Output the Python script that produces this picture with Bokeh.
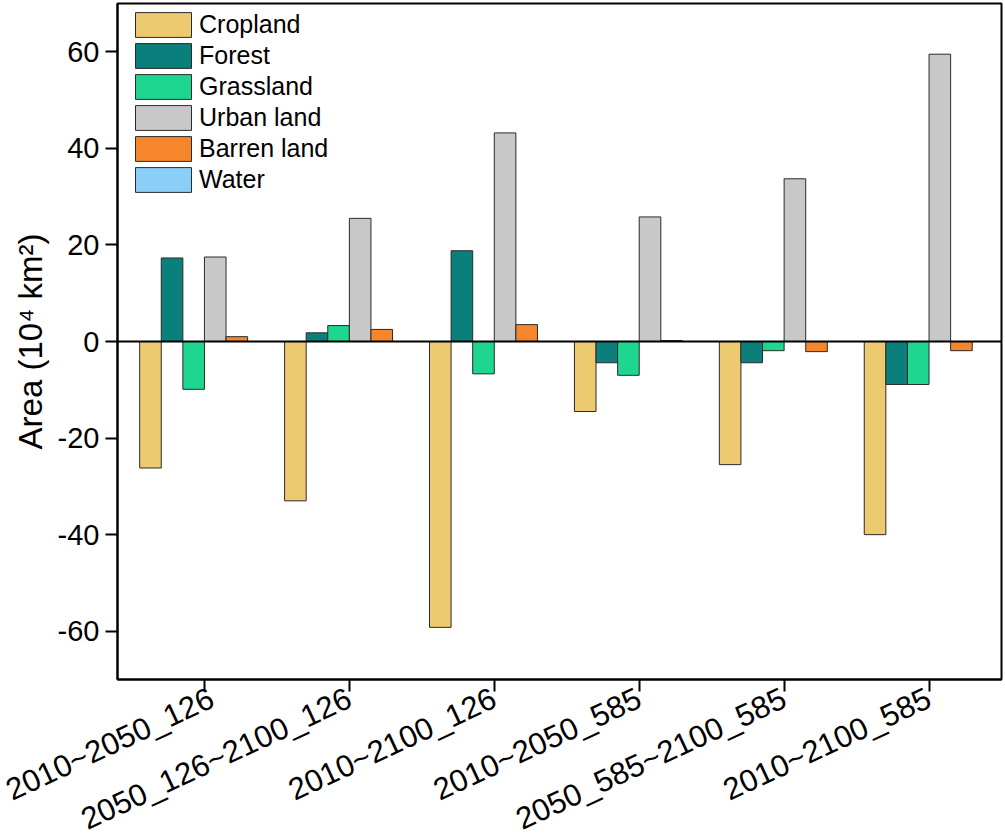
import math
from bokeh.plotting import figure
from bokeh.models import ColumnDataSource, Range1d, FixedTicker, Span
from bokeh.transform import dodge
from bokeh.embed import file_html
from bokeh.resources import INLINE

categories = ["2010~2050_126", "2050_126~2100_126", "2010~2100_126",
              "2010~2050_585", "2050_585~2100_585", "2010~2100_585"]
cropland = [-26.2, -33.0, -59.2, -14.5, -25.5, -40.0]
forest = [17.3, 1.8, 18.8, -4.4, -4.4, -8.9]
grassland = [-9.9, 3.3, -6.7, -7.0, -1.9, -8.9]
urban = [17.5, 25.5, 43.2, 25.8, 33.7, 59.5]
barren = [1.0, 2.5, 3.5, 0.2, -2.1, -1.9]
water = [0.0, 0.0, 0.0, 0.0, 0.0, 0.0]

series_names = ["Cropland", "Forest", "Grassland", "Urban land", "Barren land", "Water"]
series_values = [cropland, forest, grassland, urban, barren, water]
colors = ["#EDC96F", "#0B7F7C", "#1ED690", "#C8C8C8", "#F5862B", "#8ACFF8"]
y_ticks = [-60, -40, -20, 0, 20, 40, 60]

FONT = "Liberation Sans"

data = {"x": list(range(len(categories)))}
for name, vals in zip(series_names, series_values):
    data[name] = vals
src = ColumnDataSource(data)

p = figure(frame_width=884, frame_height=676,
           x_range=Range1d(-0.6, 5.5), y_range=Range1d(-70, 70),
           output_backend="svg", toolbar_location=None,
           min_border_left=117, min_border_right=4, min_border_top=3,
           min_border_bottom=10)

bw = 0.149
n = len(series_names)
for i, (name, col) in enumerate(zip(series_names, colors)):
    off = (i - (n - 1) / 2) * bw
    p.vbar(x=dodge("x", off), top=name, bottom=0, width=bw, source=src,
           fill_color=col, line_color="#2b2b2b", line_width=1, legend_label=name)

p.add_layout(Span(location=0, dimension="width", line_color="black", line_width=2))

p.xgrid.visible = False
p.ygrid.visible = False
p.outline_line_color = "black"
p.outline_line_width = 2
p.outline_line_alpha = 1

for ax in (p.xaxis[0], p.yaxis[0]):
    ax.axis_line_width = 2
    ax.axis_line_color = "black"
    ax.major_tick_line_width = 2
    ax.major_tick_line_color = "black"
    ax.major_tick_out = 12
    ax.major_tick_in = 0
    ax.minor_tick_out = 0
    ax.minor_tick_in = 0
    ax.major_label_text_font = FONT
    ax.major_label_text_color = "black"

p.yaxis.ticker = FixedTicker(ticks=y_ticks)
p.yaxis.major_label_overrides = {t: str(t) for t in y_ticks}
p.yaxis.major_label_text_font_size = "29px"
p.yaxis.major_label_standoff = 6
p.yaxis.axis_label = "Area (10\u2074 km\u00b2)"
p.yaxis.axis_label_text_font = FONT
p.yaxis.axis_label_text_font_size = "33px"
p.yaxis.axis_label_text_font_style = "normal"
p.yaxis.axis_label_text_color = "black"
p.yaxis.axis_label_standoff = 6

p.xaxis.ticker = FixedTicker(ticks=list(range(len(categories))))
p.xaxis.major_label_overrides = {i: c for i, c in enumerate(categories)}
p.xaxis.major_label_orientation = math.radians(25)
p.xaxis.major_label_text_font_size = "31px"
p.xaxis.major_label_standoff = 5

lg = p.legend[0]
lg.location = (11, 676 - 6 - 186)
lg.margin = 0
lg.padding = 0
lg.spacing = 0
lg.glyph_width = 70
lg.glyph_height = 31
lg.label_height = 27
lg.label_standoff = 1
lg.label_text_font = FONT
lg.label_text_font_size = "25px"
lg.label_text_color = "black"
lg.border_line_alpha = 0
lg.background_fill_alpha = 0

open("out.html", "w").write(file_html(p, INLINE))
